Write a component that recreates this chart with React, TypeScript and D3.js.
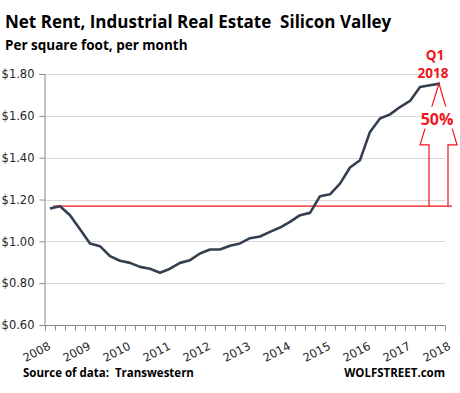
import React, { useEffect, useRef } from 'react';
import * as d3 from 'd3';

// Years shown on the x axis (one label every 4 quarters)
const years = ['2008', '2009', '2010', '2011', '2012', '2013', '2014', '2015', '2016', '2017', '2018'];

// Quarters 2008 Q2 .. 2018 Q1
const quarters = years.flatMap((yr) => ['Q1', 'Q2', 'Q3', 'Q4'].map((q) => yr + ' ' + q)).slice(1, 41);

// Net rent, $ per sq ft per month
const rent = [
  1.157, 1.168, 1.125, 1.058, 0.99, 0.977, 0.929, 0.907, 0.897, 0.878,
  0.869, 0.85, 0.869, 0.897, 0.91, 0.942, 0.961, 0.961, 0.979, 0.99,
  1.015, 1.023, 1.045, 1.066, 1.093, 1.125, 1.136, 1.216, 1.225, 1.276,
  1.353, 1.388, 1.523, 1.587, 1.607, 1.642, 1.671, 1.738, 1.746, 1.754
];

const yTicks = [0.6, 0.8, 1.0, 1.2, 1.4, 1.6, 1.8];

const title = 'Net Rent, Industrial Real Estate  Silicon Valley';
const subtitle = 'Per square foot, per month';
const source = 'Source of data:  Transwestern';
const brand = 'WOLFSTREET.com';

const W = 460;
const H = 393;
const RED = '#f0141e';
const LINE = '#333f50';
const TITLE_FONT = '"Open Sans", "Liberation Sans", sans-serif';
const AXIS_FONT = '"DejaVu Sans", sans-serif';

export default function App() {
  const ref = useRef<SVGSVGElement>(null);

  useEffect(() => {
    const svg = d3.select(ref.current);
    svg.selectAll('*').remove();

    const margin = { top: 74, right: 15, bottom: 68, left: 45 };
    const x = d3.scaleBand<string>()
      .domain(quarters)
      .range([margin.left, W - margin.right]);
    const bw = x.bandwidth();
    const cx = (i: number) => (x(quarters[i]) as number) + bw / 2;

    // boundary scale for tick marks between the quarters
    const xb = d3.scaleLinear()
      .domain([0, quarters.length])
      .range([margin.left, W - margin.right]);

    const y = d3.scaleLinear()
      .domain([0.6, 1.8])
      .range([H - margin.bottom, margin.top]);

    // Gridlines
    svg.append('g')
      .selectAll('line')
      .data(yTicks.slice(1))
      .enter()
      .append('line')
      .attr('x1', margin.left)
      .attr('x2', W - margin.right)
      .attr('y1', (d) => Math.round(y(d)) + 0.5)
      .attr('y2', (d) => Math.round(y(d)) + 0.5)
      .style('stroke', '#d9d9d9')
      .style('stroke-width', 1);

    // Y axis
    const yAxis = d3.axisLeft(y)
      .tickValues(yTicks)
      .tickSize(5)
      .tickPadding(5)
      .tickFormat((d) => '$' + d3.format('.2f')(d as number));
    const yg = svg.append('g').attr('transform', 'translate(' + (margin.left - 0.5) + ',0)');
    yAxis(yg);
    yg.selectAll('path, line').style('stroke', '#868686');
    yg.selectAll('text')
      .style('font-family', AXIS_FONT)
      .style('font-size', '11.5px')
      .style('fill', '#262626');

    // X axis
    const xAxis = d3.axisBottom(xb)
      .tickValues(d3.range(quarters.length + 1))
      .tickSize(5)
      .tickFormat((d) => ((d as number) % 4 === 0 ? years[(d as number) / 4] : ''));
    const xg = svg.append('g').attr('transform', 'translate(0,' + (H - margin.bottom + 0.5) + ')');
    xAxis(xg);
    xg.select('.domain').attr('d', 'M' + margin.left + ',0H' + (W - margin.right));
    xg.selectAll('path, line').style('stroke', '#868686');
    xg.selectAll('text')
      .style('font-family', AXIS_FONT)
      .style('font-size', '11.5px')
      .style('fill', '#262626')
      .attr('text-anchor', 'end')
      .attr('dy', 0)
      .attr('y', 0)
      .attr('transform', 'translate(6,23) rotate(-28)');

    // Reference line at the 2008 level
    const base = rent[1];
    svg.append('line')
      .attr('x1', cx(0) + 3)
      .attr('x2', W - margin.right + 7)
      .attr('y1', y(base))
      .attr('y2', y(base))
      .style('stroke', RED)
      .style('stroke-width', 1.3);

    // Rent line
    const line = d3.line<number>()
      .x((d, i) => cx(i))
      .y((d) => y(d));
    svg.append('path')
      .datum(rent)
      .attr('d', line)
      .style('fill', 'none')
      .style('stroke', LINE)
      .style('stroke-width', 2.6)
      .style('stroke-linejoin', 'round');

    // Arrow from reference level up to latest value
    const last = rent.length - 1;
    const tipX = cx(last) - 1;
    const tipY = y(rent[last]);
    const baseY = y(base);
    const midY = tipY + (baseY - tipY) / 2;
    const arrow = d3.path();
    arrow.moveTo(tipX - 10, baseY);
    arrow.lineTo(tipX - 10, midY);
    arrow.lineTo(tipX - 19, midY);
    arrow.lineTo(tipX, tipY);
    arrow.lineTo(tipX + 18, midY);
    arrow.lineTo(tipX + 9, midY);
    arrow.lineTo(tipX + 9, baseY);
    svg.append('path')
      .attr('d', arrow.toString())
      .style('fill', 'none')
      .style('stroke', RED)
      .style('stroke-width', 1.2);

    const pct = d3.format('.0%')(rent[last] / base - 1);
    svg.append('rect')
      .attr('x', tipX - 17)
      .attr('y', tipY + 23)
      .attr('width', 34)
      .attr('height', 22)
      .style('fill', '#fff');
    svg.append('text')
      .attr('x', tipX - 2)
      .attr('y', tipY + 41)
      .attr('text-anchor', 'middle')
      .style('font-family', TITLE_FONT)
      .style('font-weight', 700)
      .style('font-size', '16px')
      .style('fill', RED)
      .text(pct);

    svg.append('text')
      .attr('x', tipX - 4)
      .attr('y', 60)
      .attr('text-anchor', 'middle')
      .style('font-family', TITLE_FONT)
      .style('font-weight', 700)
      .style('font-size', '13.5px')
      .style('fill', RED)
      .text('Q1');
    svg.append('text')
      .attr('x', tipX - 6)
      .attr('y', 78)
      .attr('text-anchor', 'middle')
      .style('font-family', TITLE_FONT)
      .style('font-weight', 700)
      .style('font-size', '13.5px')
      .style('fill', RED)
      .text(years[years.length - 1]);

    // Titles
    svg.append('text')
      .attr('x', 5)
      .attr('y', 28)
      .style('font-family', TITLE_FONT)
      .style('font-weight', 700)
      .style('font-size', '17px')
      .style('white-space', 'pre')
      .style('fill', '#000')
      .text(title);
    svg.append('text')
      .attr('x', 5)
      .attr('y', 50)
      .style('font-family', TITLE_FONT)
      .style('font-weight', 700)
      .style('font-size', '13.5px')
      .style('fill', '#000')
      .text(subtitle);

    // Footer
    svg.append('text')
      .attr('x', 23)
      .attr('y', 377)
      .style('font-family', TITLE_FONT)
      .style('font-weight', 700)
      .style('font-size', '11.5px')
      .style('white-space', 'pre')
      .style('fill', '#000')
      .text(source);
    svg.append('text')
      .attr('x', 445)
      .attr('y', 377)
      .attr('text-anchor', 'end')
      .style('font-family', TITLE_FONT)
      .style('font-weight', 700)
      .style('font-size', '11.5px')
      .style('fill', '#000')
      .text(brand);
  }, []);

  return (
    <svg
      ref={ref}
      width={W}
      height={H}
      style={{ position: 'absolute', left: 0, top: 0, background: '#fff' }}
    />
  );
}
